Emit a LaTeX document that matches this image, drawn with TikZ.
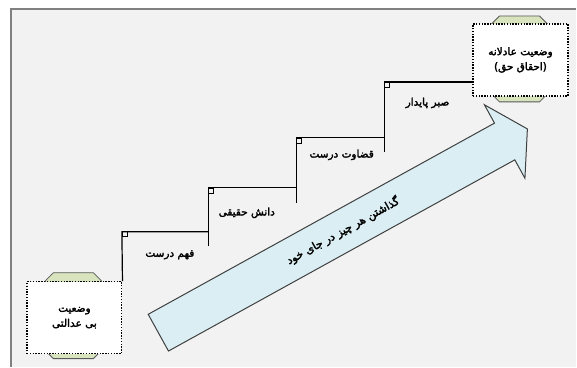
\documentclass[tikz,border=0pt]{standalone}
\usepackage{fontspec}
\newfontfamily\fa[Script=Arabic, FakeBold=2.4]{DejaVu Sans}
\TeXXeTstate=1
\definecolor{panel}{HTML}{F2F2F2}
\definecolor{capgreen}{HTML}{D7E4BD}
\definecolor{arrowblue}{HTML}{DAEEF3}
\newcommand{\rl}[1]{\beginR #1\endR}

\begin{document}
\begin{tikzpicture}[x=1pt, y=-1pt,
    state/.style={draw=black, fill=white, line width=1.2pt,
      dash pattern=on 1.4pt off 1.4pt, minimum width=95pt,
      minimum height=72pt, align=center,
      font=\fa\fontsize{10.5}{15}\selectfont},
    statecap/.pic={
      \draw[draw=black!65, fill=capgreen, line width=0.8pt]
        (-20,-43) -- (20,-43) -- (28,-35) -- (28,35) -- (20,43)
        -- (-20,43) -- (-28,35) -- (-28,-35) -- cycle;},
    stair/.style={line width=1.2pt, black},
    tick/.style={line width=0.6pt, black},
    steplbl/.style={font=\fa\fontsize{10.5}{12}\selectfont},
    bigarrow/.style={draw=black!75, fill=arrowblue, line width=1pt,
      line join=miter},
  ]
    % page and panel edges
    \fill[white] (0,0) rectangle (577,367);
    \fill[panel] (11,9) rectangle (577,367);
    \draw[black!50, line width=1.2pt] (11,367) -- (11,9) -- (577,9);

    % start and goal states
    \pic at (73.5,316) {statecap};
    \node[state] (start) at (74.5,318) {\rl{وضعیت}\\\rl{بی عدالتی}};
    \pic at (520,59) {statecap};
    \node[state] (goal) at (521,60) {\rl{وضعیت عادلانه}\\\rl{(احقاق حق)}};

    % Step 1
    \coordinate (t1) at (122,232);
    \draw[stair] (start.north east) -- (t1) -- (209,232);
    \draw[tick] (t1) rectangle ++(5,5);
    \node[steplbl] (l1) at (170,255) {\rl{فهم درست}};

    % Step 2
    \coordinate (t2) at (209,188);
    \draw[stair] (209,246) -- (t2) -- (297,188);
    \draw[tick] (t2) rectangle ++(5,5);
    \node[steplbl] (l2) at (247,213) {\rl{دانش حقیقی}};

    % Step 3
    \coordinate (t3) at (297,138);
    \draw[stair] (297,203) -- (t3) -- (385,138);
    \draw[tick] (t3) rectangle ++(5,5);
    \node[steplbl] (l3) at (342,155) {\rl{قضاوت درست}};

    % Step 4: runs into the goal box
    \coordinate (t4) at (385,82);
    \draw[stair] (385,152) -- (t4) -- (t4 -| goal.west);
    \draw[tick] (t4) rectangle ++(5,5);
    \node[steplbl] (l4) at (428,103) {\rl{صبر پایدار}};

    % the long arrow under the stairs
    \begin{scope}[shift={(158.5,333)}, rotate=28.9]
      \draw[bigarrow] (0,-21) -- (396,-21) -- (396,-42) -- (422,0)
        -- (396,42) -- (396,21) -- (0,21) -- cycle;
      \node[steplbl, rotate=28.9, font=\fa\fontsize{11}{12}\selectfont]
        (way) at (211,0) {\rl{گذاشتن هر چیز در جای خود}};
    \end{scope}
\end{tikzpicture}
\end{document}
